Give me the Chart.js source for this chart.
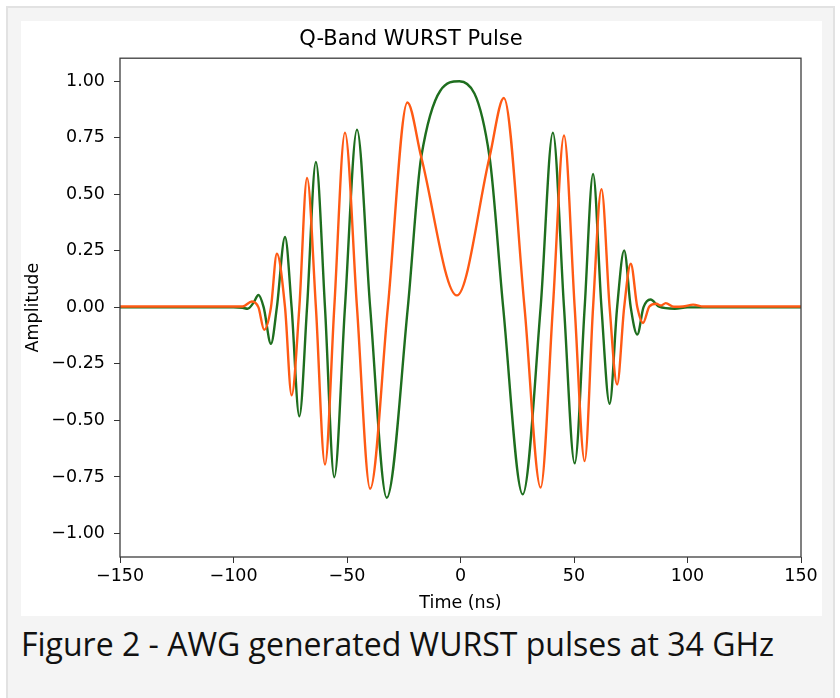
<!DOCTYPE html>
<html>
<head>
<meta charset="utf-8">
<title>Q-Band WURST Pulse</title>
<script src="https://cdn.jsdelivr.net/npm/chart.js@4.4.1/dist/chart.umd.min.js"></script>
<style>
  html, body { margin: 0; padding: 0; background: #fff; width: 840px; height: 698px; overflow: hidden; }
  #frame { position: absolute; left: 6px; top: 6px; width: 825px; height: 720px; background: #f4f4f4; border: 2px solid #e2e2e2; }
  #panel { position: absolute; left: 21px; top: 21px; width: 801px; height: 595px; background: #fff; }
  #caption { position: absolute; left: 21px; top: 622px; font-family: "Open Sans", sans-serif; font-size: 32px; color: #111; white-space: nowrap; }
</style>
</head>
<body>
<div id="frame"></div>
<div id="panel"><canvas id="myChart" width="801" height="595"></canvas></div>
<div id="caption">Figure 2 - AWG generated WURST pulses at 34 GHz</div>

<script>
// time axis (ns) and amplitude: extrema, zero crossings, crossings
var greenT = [-150, -100, -96, -93.8, -91.2, -89, -86.7, -83.5, -80.9, -77.3, -74.4, -71, -67.6, -63.7,
  -59.7, -55.6, -50.9, -45.6, -39.8, -32.5, -23.2, -17.3, -0.5, 12.8, 18.8, 27.4, 35.3, 40.7, 45.6,
  50.3, 54.7, 58.4, 62.1, 65.7, 69, 72.1, 75, 77.9, 80.6, 83.7, 87.5, 94.4, 100, 150];
var greenY = [0, 0, -0.002, -0.006, 0.02, 0.055, 0, -0.161, 0, 0.311, 0, -0.482, 0, 0.643,
  0, -0.751, 0, 0.786, 0, -0.842, 0, 0.665, 1.0, 0.665, 0, -0.827, 0, 0.773, 0,
  -0.69, 0, 0.59, 0, -0.426, 0, 0.252, 0, -0.12, 0, 0.035, 0.003, -0.006, 0, 0];

var orangeT = [-150, -100, -96, -91.9, -89, -86.5, -83.5, -80.9, -77.3, -74.4, -71, -67.6, -63.7,
  -59.7, -55.6, -50.9, -45.6, -39.8, -32, -23.4, -17.3, -1.6, 12.8, 19.1, 28.2, 35.3, 40.7,
  45.6, 50.3, 54.7, 58.4, 62.1, 65.7, 69, 72.1, 75, 77.9, 80.4, 83.2, 86.3, 88.3, 90.4, 94,
  98, 102.5, 107, 150];
var orangeY = [0.004, 0.004, 0.004, 0.026, 0, -0.099, 0, 0.237, 0, -0.389, 0, 0.572, 0,
  -0.695, 0, 0.773, 0, -0.802, 0, 0.906, 0.665, 0.053, 0.665, 0.926, 0, -0.797, 0,
  0.76, 0, -0.68, 0, 0.523, 0, -0.341, 0, 0.193, 0, -0.069, 0.004, 0.016, 0.008, 0.019, 0.003,
  0.004, 0.012, 0.004, 0.004];

var xTicks = [-150, -100, -50, 0, 50, 100, 150];
var yTicks = [-1.0, -0.75, -0.5, -0.25, 0, 0.25, 0.5, 0.75, 1.0];

var baseFont = { family: "'DejaVu Sans', sans-serif", size: 17.5 };

function toPoints(ts, ys) {
  return ts.map(function (t, i) { return { x: t, y: ys[i] }; });
}
function minusSign(s) {
  return s.replace("-", "\u2212");
}

// matplotlib style box round the plot area
const axesBox = {
  id: "axesBox",
  afterDatasetsDraw(chart) {
    const { ctx, chartArea } = chart;
    ctx.save();
    ctx.strokeStyle = "#3c3c3c";
    ctx.lineWidth = 1.3;
    ctx.strokeRect(chartArea.left, chartArea.top, chartArea.right - chartArea.left, chartArea.bottom - chartArea.top);
    ctx.restore();
  }
};

const myChart = new Chart(document.getElementById("myChart"), {
  type: "line",
  data: {
    datasets: [
      {
        label: "Q",
        data: toPoints(orangeT, orangeY),
        borderColor: "#ff5a14",
        order: 0
      },
      {
        label: "I",
        data: toPoints(greenT, greenY),
        borderColor: "#1e6e1e",
        order: 1
      }
    ]
  },
  options: {
    responsive: false,
    animation: false,
    devicePixelRatio: 1,
    layout: { padding: { left: 0, right: 21, top: 0, bottom: 0 } },
    elements: {
      point: { radius: 0 },
      line: { borderWidth: 2.4, cubicInterpolationMode: "monotone", fill: false }
    },
    plugins: {
      legend: { display: false },
      tooltip: { enabled: false },
      title: {
        display: true,
        text: "Q-Band WURST Pulse",
        color: "#000",
        font: { family: "'DejaVu Sans', sans-serif", size: 21, weight: "normal" },
        padding: { top: 6, bottom: 6 }
      }
    },
    scales: {
      x: {
        type: "linear",
        min: -150,
        max: 150,
        afterBuildTicks: function (scale) { scale.ticks = xTicks.map(function (v) { return { value: v }; }); },
        afterFit: function (scale) { scale.height = 59; },
        ticks: {
          color: "#000",
          font: baseFont,
          padding: 3,
          maxRotation: 0,
          autoSkip: false,
          callback: function (v) { return minusSign(String(v)); }
        },
        grid: { drawOnChartArea: false, drawTicks: true, tickLength: 6, color: "#333" },
        border: { display: false },
        title: { display: true, text: "Time (ns)", color: "#000", font: baseFont, padding: { top: 0, bottom: 2.5 } }
      },
      y: {
        min: -1.104,
        max: 1.102,
        afterBuildTicks: function (scale) { scale.ticks = yTicks.map(function (v) { return { value: v }; }); },
        afterFit: function (scale) { scale.width = 99; },
        ticks: {
          color: "#000",
          font: baseFont,
          padding: 9,
          autoSkip: false,
          callback: function (v) { return minusSign(v.toFixed(2)); }
        },
        grid: { drawOnChartArea: false, drawTicks: true, tickLength: 6, color: "#333" },
        border: { display: false },
        title: { display: true, text: "Amplitude", color: "#000", font: baseFont, padding: { top: 1.5, bottom: 0 } }
      }
    }
  },
  plugins: [axesBox]
});
</script>
</body>
</html>
